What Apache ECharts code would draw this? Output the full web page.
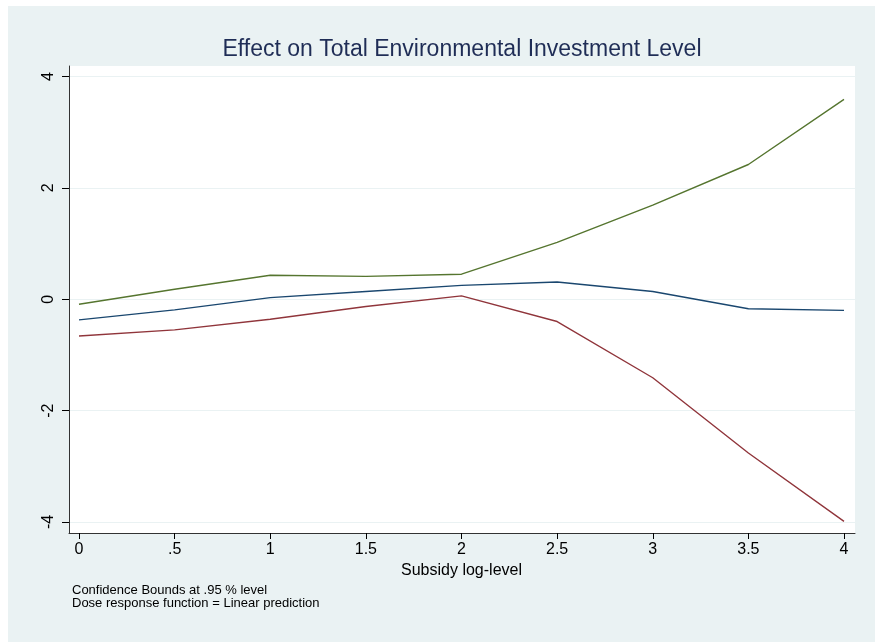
<!DOCTYPE html>
<html>
<head>
<meta charset="utf-8">
<title>Effect on Total Environmental Investment Level</title>
<script src="https://cdn.jsdelivr.net/npm/echarts@6/dist/echarts.min.js"></script>
<style>
  html, body { margin: 0; padding: 0; background: #ffffff; overflow: hidden; }
  #chart { position: absolute; left: 8px; top: 6px; width: 867px; height: 636px; }
</style>
</head>
<body>
<div id="chart"></div>
<script>
  // dose levels (subsidy log-level)
  var doseLevels = [0, 0.5, 1, 1.5, 2, 2.5, 3, 3.5, 4];
  // upper confidence bound
  var upperBound = [-0.09, 0.18, 0.43, 0.41, 0.45, 1.02, 1.69, 2.42, 3.59];
  // dose response estimate
  var doseResponse = [-0.37, -0.19, 0.03, 0.14, 0.25, 0.31, 0.14, -0.17, -0.20];
  // lower confidence bound
  var lowerBound = [-0.66, -0.55, -0.36, -0.13, 0.06, -0.40, -1.41, -2.76, -3.99];
  var xTickLabels = {'0': '0', '0.5': '.5', '1': '1', '1.5': '1.5', '2': '2', '2.5': '2.5', '3': '3', '3.5': '3.5', '4': '4'};
  var notes = ['Confidence Bounds at .95 % level', 'Dose response function = Linear prediction'];

  function pairs(ys) {
    return doseLevels.map(function (x, i) { return [x, ys[i]]; });
  }

  var font = 'Liberation Sans, Arial, Helvetica, sans-serif';
  var myChart = echarts.init(document.getElementById('chart'));

  myChart.setOption({
    animation: false,
    backgroundColor: '#eaf2f3',
    title: {
      text: 'Effect on Total Environmental Investment Level',
      left: 454,
      top: 32,
      padding: 0,
      textAlign: 'center',
      textStyle: { fontFamily: font, fontSize: 23, fontWeight: 'normal', color: '#1f2d56' }
    },
    graphic: [{
      type: 'text',
      left: 64,
      top: 578,
      style: { text: notes.join('\n'), font: '13px ' + font, lineHeight: 13, fill: '#000' }
    }],
    grid: [
      /*白色绘图区 + 轴线*/
      { left: 61, right: 20, top: 60, bottom: 109, show: true, backgroundColor: '#ffffff', borderWidth: 0 },
      /*网格线 + y 轴刻度*/
      { left: 61, right: 20, top: 70.5, bottom: 120 },
      /*数据*/
      { left: 71, right: 31, top: 70.5, bottom: 120 }
    ],
    xAxis: [
      {
        gridIndex: 0, type: 'value', min: 0, max: 1,
        axisLine: { show: true, onZero: false, lineStyle: { color: '#333', width: 1 } },
        axisTick: { show: false }, axisLabel: { show: false }, splitLine: { show: false }
      },
      {
        gridIndex: 1, type: 'value', min: 0, max: 1, show: false
      },
      {
        gridIndex: 2, type: 'value', min: 0, max: 4, interval: 0.5, offset: 11,
        axisLine: { show: false, onZero: false },
        axisTick: { show: true, length: 6, lineStyle: { color: '#000' } },
        axisLabel: {
          margin: 9, fontFamily: font, fontSize: 16, color: '#000',
          formatter: function (v) { return xTickLabels[String(v)]; }
        },
        splitLine: { show: false },
        name: 'Subsidy log-level', nameLocation: 'middle', nameGap: 27,
        nameTextStyle: { fontFamily: font, fontSize: 16, color: '#000' }
      }
    ],
    yAxis: [
      {
        gridIndex: 0, type: 'value', min: 0, max: 1,
        axisLine: { show: true, onZero: false, lineStyle: { color: '#333', width: 1 } },
        axisTick: { show: false }, axisLabel: { show: false }, splitLine: { show: false }
      },
      {
        gridIndex: 1, type: 'value', min: -4, max: 4, interval: 2,
        axisLine: { show: false, onZero: false },
        axisTick: { show: true, length: 7, lineStyle: { color: '#000' } },
        axisLabel: { rotate: 90, margin: 12, fontFamily: font, fontSize: 16, color: '#000' },
        splitLine: { show: true, lineStyle: { color: '#eaf2f3', width: 1.2 } }
      },
      {
        gridIndex: 2, type: 'value', min: -4, max: 4, show: false
      }
    ],
    series: [
      {
        name: 'upper', type: 'line', xAxisIndex: 2, yAxisIndex: 2,
        data: pairs(upperBound), showSymbol: false, symbol: 'none',
        lineStyle: { color: '#55752f', width: 1.4 }
      },
      {
        name: 'dose response', type: 'line', xAxisIndex: 2, yAxisIndex: 2,
        data: pairs(doseResponse), showSymbol: false, symbol: 'none',
        lineStyle: { color: '#1a476f', width: 1.4 }
      },
      {
        name: 'lower', type: 'line', xAxisIndex: 2, yAxisIndex: 2,
        data: pairs(lowerBound), showSymbol: false, symbol: 'none',
        lineStyle: { color: '#90353b', width: 1.4 }
      }
    ]
  });
</script>
</body>
</html>
